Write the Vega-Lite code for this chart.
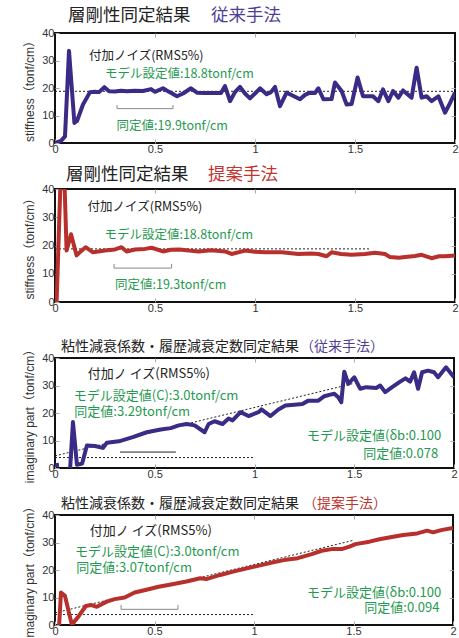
{
  "$schema": "https://vega.github.io/schema/vega-lite/v6.json",
  "padding": {"left": 22, "top": 5, "right": 0, "bottom": 0},
  "background": "white",
  "datasets": {
    "line1": [
      {"x":0,"y":0},{"x":0.03,"y":0.8},{"x":0.05,"y":2.4},{"x":0.07,"y":33.5},{"x":0.097,"y":7.3},{"x":0.11,"y":8},{"x":0.14,"y":14},{"x":0.175,"y":18.5},{"x":0.2,"y":18.6},{"x":0.22,"y":18.5},{"x":0.247,"y":20.3},{"x":0.27,"y":18.8},{"x":0.3,"y":18.7},{"x":0.33,"y":19},{"x":0.36,"y":18.8},{"x":0.4,"y":19},{"x":0.44,"y":18.9},{"x":0.48,"y":19.6},{"x":0.5,"y":18.6},{"x":0.54,"y":19.9},{"x":0.57,"y":18.6},{"x":0.61,"y":17},{"x":0.64,"y":18},{"x":0.68,"y":19.9},{"x":0.71,"y":18.3},{"x":0.75,"y":18.2},{"x":0.8,"y":18.2},{"x":0.83,"y":18.2},{"x":0.85,"y":20.7},{"x":0.875,"y":15.2},{"x":0.9,"y":18.5},{"x":0.925,"y":20.4},{"x":0.95,"y":18},{"x":0.975,"y":16.2},{"x":1.0,"y":18},{"x":1.025,"y":19.9},{"x":1.058,"y":17.7},{"x":1.08,"y":18.5},{"x":1.1,"y":20.4},{"x":1.125,"y":13.4},{"x":1.158,"y":18.3},{"x":1.19,"y":17.2},{"x":1.225,"y":15.9},{"x":1.25,"y":17.5},{"x":1.275,"y":18.3},{"x":1.3,"y":18.2},{"x":1.317,"y":19.9},{"x":1.342,"y":15.9},{"x":1.383,"y":16},{"x":1.4,"y":22},{"x":1.433,"y":18.9},{"x":1.458,"y":14},{"x":1.483,"y":14.2},{"x":1.513,"y":23.8},{"x":1.54,"y":17},{"x":1.59,"y":17},{"x":1.617,"y":15.2},{"x":1.64,"y":19.5},{"x":1.667,"y":15.2},{"x":1.69,"y":18.9},{"x":1.717,"y":16.5},{"x":1.74,"y":19.1},{"x":1.783,"y":16.5},{"x":1.808,"y":27.4},{"x":1.833,"y":16.5},{"x":1.858,"y":17},{"x":1.883,"y":15.2},{"x":1.917,"y":17},{"x":1.95,"y":11},{"x":1.975,"y":14.5},{"x":2.0,"y":18.3}
    ],
    "line2": [
      {"x":0.008,"y":0},{"x":0.03,"y":48},{"x":0.045,"y":48},{"x":0.058,"y":18.2},{"x":0.08,"y":24},{"x":0.108,"y":16.5},{"x":0.13,"y":18},{"x":0.153,"y":19.4},{"x":0.19,"y":17.6},{"x":0.25,"y":18.2},{"x":0.3,"y":18.6},{"x":0.333,"y":19.4},{"x":0.358,"y":17.9},{"x":0.4,"y":18.6},{"x":0.45,"y":18.8},{"x":0.483,"y":19.2},{"x":0.54,"y":17.9},{"x":0.58,"y":18.5},{"x":0.62,"y":18.6},{"x":0.67,"y":18.2},{"x":0.717,"y":17.9},{"x":0.78,"y":18.3},{"x":0.85,"y":17.9},{"x":0.883,"y":17},{"x":0.95,"y":18.2},{"x":1.0,"y":17.8},{"x":1.05,"y":17.6},{"x":1.133,"y":17.6},{"x":1.217,"y":17},{"x":1.28,"y":17.2},{"x":1.317,"y":17},{"x":1.358,"y":16.2},{"x":1.383,"y":17.6},{"x":1.43,"y":17},{"x":1.483,"y":16.7},{"x":1.55,"y":17},{"x":1.6,"y":17.4},{"x":1.65,"y":17},{"x":1.675,"y":15.9},{"x":1.72,"y":15.7},{"x":1.75,"y":15.9},{"x":1.8,"y":16.3},{"x":1.833,"y":16.7},{"x":1.883,"y":15.5},{"x":1.92,"y":16.2},{"x":1.95,"y":16.2},{"x":2.0,"y":16.5}
    ],
    "line3": [
      {"g":"a","x":0,"y":1},{"g":"a","x":0.02,"y":1.2},
      {"g":"b","x":0.076,"y":0},{"g":"b","x":0.09,"y":16.7},{"g":"b","x":0.11,"y":1.2},{"g":"b","x":0.136,"y":1.6},{"g":"b","x":0.16,"y":8.2},{"g":"b","x":0.2,"y":8},{"g":"b","x":0.24,"y":7.3},{"g":"b","x":0.26,"y":9.2},{"g":"b","x":0.32,"y":9.7},{"g":"b","x":0.39,"y":11.2},{"g":"b","x":0.46,"y":13},{"g":"b","x":0.53,"y":14},{"g":"b","x":0.58,"y":14.5},{"g":"b","x":0.62,"y":15.5},{"g":"b","x":0.66,"y":16},{"g":"b","x":0.7,"y":15.5},{"g":"b","x":0.75,"y":13},{"g":"b","x":0.77,"y":16},{"g":"b","x":0.8,"y":17},{"g":"b","x":0.84,"y":16},{"g":"b","x":0.87,"y":18},{"g":"b","x":0.89,"y":17.3},{"g":"b","x":0.93,"y":20.3},{"g":"b","x":0.97,"y":18.9},{"g":"b","x":1.02,"y":20.3},{"g":"b","x":1.035,"y":21.3},{"g":"b","x":1.08,"y":18.9},{"g":"b","x":1.12,"y":21.3},{"g":"b","x":1.155,"y":22.7},{"g":"b","x":1.2,"y":23},{"g":"b","x":1.24,"y":23.3},{"g":"b","x":1.27,"y":24.5},{"g":"b","x":1.32,"y":24.5},{"g":"b","x":1.35,"y":26.1},{"g":"b","x":1.375,"y":26.6},{"g":"b","x":1.4,"y":27},{"g":"b","x":1.42,"y":25.7},{"g":"b","x":1.435,"y":23.9},{"g":"b","x":1.45,"y":35},{"g":"b","x":1.47,"y":30.6},{"g":"b","x":1.5,"y":33},{"g":"b","x":1.53,"y":28.8},{"g":"b","x":1.56,"y":29.4},{"g":"b","x":1.61,"y":29.1},{"g":"b","x":1.63,"y":30},{"g":"b","x":1.655,"y":27.6},{"g":"b","x":1.69,"y":29.4},{"g":"b","x":1.73,"y":31.4},{"g":"b","x":1.757,"y":32.6},{"g":"b","x":1.78,"y":31.4},{"g":"b","x":1.8,"y":34.8},{"g":"b","x":1.82,"y":28.8},{"g":"b","x":1.84,"y":34.8},{"g":"b","x":1.87,"y":35.4},{"g":"b","x":1.9,"y":34.8},{"g":"b","x":1.92,"y":33},{"g":"b","x":1.96,"y":36.6},{"g":"b","x":2.0,"y":33}
    ],
    "line4": [
      {"x":0.02,"y":-1},{"x":0.03,"y":11.8},{"x":0.05,"y":10.6},{"x":0.085,"y":0},{"x":0.1,"y":1.5},{"x":0.12,"y":3.3},{"x":0.155,"y":6.9},{"x":0.18,"y":7.3},{"x":0.21,"y":6.6},{"x":0.26,"y":8.5},{"x":0.3,"y":9.4},{"x":0.35,"y":10},{"x":0.4,"y":11.8},{"x":0.47,"y":13},{"x":0.52,"y":13.9},{"x":0.59,"y":14.8},{"x":0.66,"y":15.8},{"x":0.73,"y":17},{"x":0.76,"y":16.7},{"x":0.83,"y":18.2},{"x":0.9,"y":19.5},{"x":0.97,"y":20.7},{"x":1.02,"y":21.5},{"x":1.09,"y":22.7},{"x":1.15,"y":23.6},{"x":1.22,"y":24.3},{"x":1.29,"y":25.8},{"x":1.34,"y":27},{"x":1.39,"y":27.6},{"x":1.44,"y":27.6},{"x":1.48,"y":28.5},{"x":1.51,"y":29.4},{"x":1.58,"y":30.3},{"x":1.63,"y":31.2},{"x":1.7,"y":32.1},{"x":1.75,"y":32.7},{"x":1.82,"y":33.3},{"x":1.87,"y":34.3},{"x":1.9,"y":33.7},{"x":1.94,"y":34.5},{"x":2.0,"y":35.3}
    ],
    "ref1": [{"g":"h","x":0,"y":18.8},{"g":"h","x":2,"y":18.8}],
    "ref2": [{"g":"h","x":0,"y":18.8},{"g":"h","x":1.57,"y":18.8}],
    "ref34": [{"g":"h","x":0,"y":3.8},{"g":"h","x":1.0,"y":3.8},{"g":"s","x":0,"y":4.4},{"g":"s","x":1.5,"y":30.8}],
    "br1": [{"x":0.31,"y":13.8},{"x":0.31,"y":12.5},{"x":0.59,"y":12.5},{"x":0.59,"y":13.8}],
    "br2": [{"x":0.295,"y":13.5},{"x":0.295,"y":12.0},{"x":0.583,"y":12.0},{"x":0.583,"y":13.5}],
    "br3": [{"x":0.326,"y":5.8},{"x":0.606,"y":5.8}],
    "br4": [{"x":0.332,"y":7.3},{"x":0.332,"y":5.7},{"x":0.618,"y":5.7},{"x":0.618,"y":7.3}],
    "head1": [{"x":0.065,"y":46.2,"label":"層剛性同定結果","kind":"head"},{"x":0.78,"y":46.2,"label":"従来手法","kind":"conv"}],
    "head2": [{"x":0.055,"y":45,"label":"層剛性同定結果","kind":"head"},{"x":0.765,"y":45,"label":"提案手法","kind":"prop"}],
    "head3": [{"x":0.03,"y":44,"label":"粘性減衰係数・履歴減衰定数同定結果","kind":"head"},{"x":1.228,"y":44,"label":"（従来手法）","kind":"conv"}],
    "head4": [{"x":0.03,"y":44.1,"label":"粘性減衰係数・履歴減衰定数同定結果","kind":"head"},{"x":1.246,"y":44.1,"label":"（提案手法）","kind":"prop"}],
    "note1": [{"x":0.17,"y":31.7,"label":"付加ノイズ(RMS5%)","kind":"note"},{"x":0.25,"y":25,"label":"モデル設定値:18.8tonf/cm","kind":"value"},{"x":0.308,"y":6.1,"label":"同定値:19.9tonf/cm","kind":"value"}],
    "note2": [{"x":0.163,"y":33.5,"label":"付加ノイズ(RMS5%)","kind":"note"},{"x":0.247,"y":23.8,"label":"モデル設定値:18.8tonf/cm","kind":"value"},{"x":0.3,"y":6.1,"label":"同定値:19.3tonf/cm","kind":"value"}],
    "note3": [{"x":0.164,"y":34.2,"label":"付加ノ イズ(RMS5%)","kind":"note"},{"x":0.094,"y":26.3,"label":"モデル設定値(C):3.0tonf/cm","kind":"value"},{"x":0.097,"y":20.3,"label":"同定値:3.29tonf/cm","kind":"value"}],
    "note4": [{"x":0.175,"y":34.3,"label":"付加ノ イズ(RMS5%)","kind":"note"},{"x":0.1,"y":26.4,"label":"モデル設定値(C):3.0tonf/cm","kind":"value"},{"x":0.107,"y":20.7,"label":"同定値:3.07tonf/cm","kind":"value"}],
    "rnote3": [{"x":1.936,"y":11.5,"label":"モデル設定値(δb:0.100","kind":"value"},{"x":1.921,"y":5.2,"label":"同定値:0.078","kind":"value"}],
    "rnote4": [{"x":1.941,"y":11.8,"label":"モデル設定値(δb:0.100","kind":"value"},{"x":1.932,"y":6.1,"label":"同定値:0.094","kind":"value"}]
  },
  "config": {
    "view": {"stroke": "#111", "strokeWidth": 2},
    "axis": {"domain": false, "grid": false, "labelFont": "Liberation Sans", "labelFontSize": 11, "labelColor": "#333", "tickColor": "#aaa", "tickWidth": 1, "titleFont": "Liberation Sans, Noto Sans CJK JP", "titleFontSize": 12, "titleFontWeight": "normal", "titleColor": "#333"},
    "text": {"font": "Noto Sans CJK JP"}
  },
  "columns": 1,
  "spacing": 24,
  "concat": [
    {
      "columns": 1,
      "spacing": 9,
      "concat": [
        {
          "width": 400, "height": 110,
          "resolve": {"axis": {"x": "independent", "y": "independent"}},
          "layer": [
            {"data": {"name": "ref1"}, "mark": {"type": "line", "strokeDash": [2, 2], "color": "#222", "strokeWidth": 1},
             "encoding": {"x": {"field": "x", "type": "quantitative", "scale": {"domain": [0, 2], "nice": false}, "axis": {"orient": "top", "labels": false, "tickSize": -4, "values": [0.5, 1, 1.5], "title": null}},
                          "y": {"field": "y", "type": "quantitative", "scale": {"domain": [0, 40], "nice": false}, "axis": {"orient": "right", "labels": false, "tickSize": -4, "values": [10, 20, 30], "title": null}},
                          "detail": {"field": "g"}}},
            {"data": {"name": "br1"}, "mark": {"type": "line", "color": "#888", "strokeWidth": 1},
             "encoding": {"x": {"field": "x", "type": "quantitative", "axis": null}, "y": {"field": "y", "type": "quantitative", "axis": null}, "order": {"value": 0}}},
            {"data": {"name": "line1"}, "mark": {"type": "line", "color": "#3b2a86", "strokeWidth": 4, "clip": true, "strokeJoin": "round"},
             "encoding": {"x": {"field": "x", "type": "quantitative", "axis": {"values": [0, 0.5, 1, 1.5, 2], "format": "~g", "tickSize": -4, "labelPadding": 4, "labelFlush": false, "title": null}},
                          "y": {"field": "y", "type": "quantitative", "axis": {"values": [0, 10, 20, 30, 40], "tickSize": -4, "labelPadding": 5, "titlePadding": 5, "title": "stiffness（tonf/cm）"}}}},
            {"data": {"name": "head1"}, "mark": {"type": "text", "align": "left", "baseline": "middle", "fontSize": 17.5},
             "encoding": {"x": {"field": "x", "type": "quantitative", "axis": null}, "y": {"field": "y", "type": "quantitative", "axis": null}, "text": {"field": "label"},
                          "color": {"field": "kind", "type": "nominal", "legend": null, "scale": {"domain": ["head", "conv", "prop", "note", "value"], "range": ["#222222", "#4e3f94", "#c0352f", "#222222", "#1f9a50"]}}}},
            {"data": {"name": "note1"}, "mark": {"type": "text", "align": "left", "baseline": "middle", "fontSize": 12.5},
             "encoding": {"x": {"field": "x", "type": "quantitative", "axis": null}, "y": {"field": "y", "type": "quantitative", "axis": null}, "text": {"field": "label"},
                          "color": {"field": "kind", "type": "nominal", "legend": null, "scale": {"domain": ["head", "conv", "prop", "note", "value"], "range": ["#222222", "#4e3f94", "#c0352f", "#222222", "#1f9a50"]}}}}
          ]
        },
        {
          "width": 400, "height": 113,
          "resolve": {"axis": {"x": "independent", "y": "independent"}},
          "layer": [
            {"data": {"name": "ref2"}, "mark": {"type": "line", "strokeDash": [2, 2], "color": "#222", "strokeWidth": 1},
             "encoding": {"x": {"field": "x", "type": "quantitative", "scale": {"domain": [0, 2], "nice": false}, "axis": {"orient": "top", "labels": false, "tickSize": -4, "values": [0.5, 1, 1.5], "title": null}},
                          "y": {"field": "y", "type": "quantitative", "scale": {"domain": [0, 40], "nice": false}, "axis": {"orient": "right", "labels": false, "tickSize": -4, "values": [10, 20, 30], "title": null}},
                          "detail": {"field": "g"}}},
            {"data": {"name": "br2"}, "mark": {"type": "line", "color": "#888", "strokeWidth": 1},
             "encoding": {"x": {"field": "x", "type": "quantitative", "axis": null}, "y": {"field": "y", "type": "quantitative", "axis": null}, "order": {"value": 0}}},
            {"data": {"name": "line2"}, "mark": {"type": "line", "color": "#b8302c", "strokeWidth": 4, "clip": true, "strokeJoin": "round"},
             "encoding": {"x": {"field": "x", "type": "quantitative", "axis": {"values": [0, 0.5, 1, 1.5, 2], "format": "~g", "tickSize": -4, "labelPadding": 4, "labelFlush": false, "title": null}},
                          "y": {"field": "y", "type": "quantitative", "axis": {"values": [0, 10, 20, 30, 40], "tickSize": -4, "labelPadding": 5, "titlePadding": 5, "title": "stiffness（tonf/cm）"}}}},
            {"data": {"name": "head2"}, "mark": {"type": "text", "align": "left", "baseline": "middle", "fontSize": 17.5},
             "encoding": {"x": {"field": "x", "type": "quantitative", "axis": null}, "y": {"field": "y", "type": "quantitative", "axis": null}, "text": {"field": "label"},
                          "color": {"field": "kind", "type": "nominal", "legend": null, "scale": {"domain": ["head", "conv", "prop", "note", "value"], "range": ["#222222", "#4e3f94", "#c0352f", "#222222", "#1f9a50"]}}}},
            {"data": {"name": "note2"}, "mark": {"type": "text", "align": "left", "baseline": "middle", "fontSize": 12.5},
             "encoding": {"x": {"field": "x", "type": "quantitative", "axis": null}, "y": {"field": "y", "type": "quantitative", "axis": null}, "text": {"field": "label"},
                          "color": {"field": "kind", "type": "nominal", "legend": null, "scale": {"domain": ["head", "conv", "prop", "note", "value"], "range": ["#222222", "#4e3f94", "#c0352f", "#222222", "#1f9a50"]}}}}
          ]
        }
      ]
    },
    {
      "columns": 1,
      "spacing": 11,
      "concat": [
        {
          "width": 399, "height": 110,
          "resolve": {"axis": {"x": "independent", "y": "independent"}},
          "layer": [
            {"data": {"name": "ref34"}, "mark": {"type": "line", "strokeDash": [2, 2], "color": "#222", "strokeWidth": 1},
             "encoding": {"x": {"field": "x", "type": "quantitative", "scale": {"domain": [0, 2], "nice": false}, "axis": {"orient": "top", "labels": false, "tickSize": -4, "values": [0.5, 1, 1.5], "title": null}},
                          "y": {"field": "y", "type": "quantitative", "scale": {"domain": [0, 40], "nice": false}, "axis": {"orient": "right", "labels": false, "tickSize": -4, "values": [10, 20, 30], "title": null}},
                          "detail": {"field": "g"}}},
            {"data": {"name": "br3"}, "mark": {"type": "line", "color": "#222", "strokeWidth": 1},
             "encoding": {"x": {"field": "x", "type": "quantitative", "axis": null}, "y": {"field": "y", "type": "quantitative", "axis": null}, "order": {"value": 0}}},
            {"data": {"name": "line3"}, "mark": {"type": "line", "color": "#3b2a86", "strokeWidth": 4, "clip": true, "strokeJoin": "round"},
             "encoding": {"x": {"field": "x", "type": "quantitative", "axis": {"values": [0, 0.5, 1, 1.5, 2], "format": "~g", "tickSize": -4, "labelPadding": 4, "labelFlush": false, "title": null}},
                          "y": {"field": "y", "type": "quantitative", "axis": {"values": [0, 10, 20, 30, 40], "tickSize": -4, "labelPadding": 5, "titlePadding": 5, "title": "imaginary part（tonf/cm）"}},
                          "detail": {"field": "g"}}},
            {"data": {"name": "head3"}, "mark": {"type": "text", "align": "left", "baseline": "middle", "fontSize": 14},
             "encoding": {"x": {"field": "x", "type": "quantitative", "axis": null}, "y": {"field": "y", "type": "quantitative", "axis": null}, "text": {"field": "label"},
                          "color": {"field": "kind", "type": "nominal", "legend": null, "scale": {"domain": ["head", "conv", "prop", "note", "value"], "range": ["#222222", "#4e3f94", "#c0352f", "#222222", "#1f9a50"]}}}},
            {"data": {"name": "note3"}, "mark": {"type": "text", "align": "left", "baseline": "middle", "fontSize": 13},
             "encoding": {"x": {"field": "x", "type": "quantitative", "axis": null}, "y": {"field": "y", "type": "quantitative", "axis": null}, "text": {"field": "label"},
                          "color": {"field": "kind", "type": "nominal", "legend": null, "scale": {"domain": ["head", "conv", "prop", "note", "value"], "range": ["#222222", "#4e3f94", "#c0352f", "#222222", "#1f9a50"]}}}},
            {"data": {"name": "rnote3"}, "mark": {"type": "text", "align": "right", "baseline": "middle", "fontSize": 13},
             "encoding": {"x": {"field": "x", "type": "quantitative", "axis": null}, "y": {"field": "y", "type": "quantitative", "axis": null}, "text": {"field": "label"},
                          "color": {"field": "kind", "type": "nominal", "legend": null, "scale": {"domain": ["head", "conv", "prop", "note", "value"], "range": ["#222222", "#4e3f94", "#c0352f", "#222222", "#1f9a50"]}}}}
          ]
        },
        {
          "width": 398, "height": 110,
          "resolve": {"axis": {"x": "independent", "y": "independent"}},
          "layer": [
            {"data": {"name": "ref34"}, "mark": {"type": "line", "strokeDash": [2, 2], "color": "#222", "strokeWidth": 1},
             "encoding": {"x": {"field": "x", "type": "quantitative", "scale": {"domain": [0, 2], "nice": false}, "axis": {"orient": "top", "labels": false, "tickSize": -4, "values": [0.5, 1, 1.5], "title": null}},
                          "y": {"field": "y", "type": "quantitative", "scale": {"domain": [0, 40], "nice": false}, "axis": {"orient": "right", "labels": false, "tickSize": -4, "values": [10, 20, 30], "title": null}},
                          "detail": {"field": "g"}}},
            {"data": {"name": "br4"}, "mark": {"type": "line", "color": "#888", "strokeWidth": 1},
             "encoding": {"x": {"field": "x", "type": "quantitative", "axis": null}, "y": {"field": "y", "type": "quantitative", "axis": null}, "order": {"value": 0}}},
            {"data": {"name": "line4"}, "mark": {"type": "line", "color": "#b8302c", "strokeWidth": 4, "clip": true, "strokeJoin": "round"},
             "encoding": {"x": {"field": "x", "type": "quantitative", "axis": {"values": [0, 0.5, 1, 1.5, 2], "format": "~g", "tickSize": -4, "labelPadding": 4, "labelFlush": false, "title": null}},
                          "y": {"field": "y", "type": "quantitative", "axis": {"values": [0, 10, 20, 30, 40], "tickSize": -4, "labelPadding": 5, "titlePadding": 5, "title": "imaginary part（tonf/cm）"}}}},
            {"data": {"name": "head4"}, "mark": {"type": "text", "align": "left", "baseline": "middle", "fontSize": 14},
             "encoding": {"x": {"field": "x", "type": "quantitative", "axis": null}, "y": {"field": "y", "type": "quantitative", "axis": null}, "text": {"field": "label"},
                          "color": {"field": "kind", "type": "nominal", "legend": null, "scale": {"domain": ["head", "conv", "prop", "note", "value"], "range": ["#222222", "#4e3f94", "#c0352f", "#222222", "#1f9a50"]}}}},
            {"data": {"name": "note4"}, "mark": {"type": "text", "align": "left", "baseline": "middle", "fontSize": 13},
             "encoding": {"x": {"field": "x", "type": "quantitative", "axis": null}, "y": {"field": "y", "type": "quantitative", "axis": null}, "text": {"field": "label"},
                          "color": {"field": "kind", "type": "nominal", "legend": null, "scale": {"domain": ["head", "conv", "prop", "note", "value"], "range": ["#222222", "#4e3f94", "#c0352f", "#222222", "#1f9a50"]}}}},
            {"data": {"name": "rnote4"}, "mark": {"type": "text", "align": "right", "baseline": "middle", "fontSize": 13},
             "encoding": {"x": {"field": "x", "type": "quantitative", "axis": null}, "y": {"field": "y", "type": "quantitative", "axis": null}, "text": {"field": "label"},
                          "color": {"field": "kind", "type": "nominal", "legend": null, "scale": {"domain": ["head", "conv", "prop", "note", "value"], "range": ["#222222", "#4e3f94", "#c0352f", "#222222", "#1f9a50"]}}}}
          ]
        }
      ]
    }
  ]
}
